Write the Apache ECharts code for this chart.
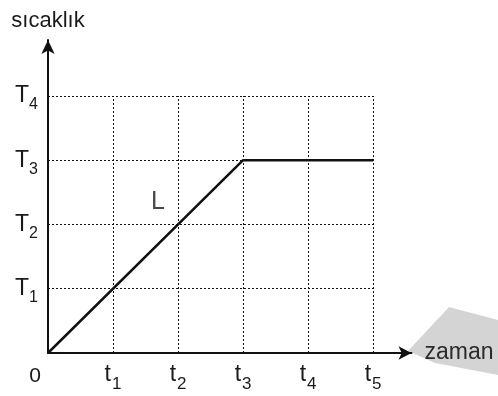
<!DOCTYPE html>
<html>
<head>
<meta charset="utf-8">
<script src="https://cdn.jsdelivr.net/npm/echarts@6/dist/echarts.min.js"></script>
<style>
html, body { margin: 0; padding: 0; background: #fff; }
#chart { width: 498px; height: 396px; }
</style>
</head>
<body>
<div id="chart"></div>
<script>
// tick marks: zaman (t) on x, sıcaklık (T) on y
var timeTicks = [1, 2, 3, 4, 5];
var timeSubs = ['1', '2', '3', '4', '5'];
var tempTicks = [1, 2, 3, 4];
var tempSubs = ['1', '2', '3', '4'];
// curve L: heats up to T3 at t3, then stays
var curveTime = [0, 3, 5];
var curveTemp = [0, 3, 3];
var curveName = 'L';
var curveLabelAt = [1.69, 2.35];

// axis ends (arrow tips) lie beyond the last grid line
var X_END = 5.59;
var Y_END = 4.87;
var GRID_X = timeTicks[timeTicks.length - 1];
var GRID_Y = tempTicks[tempTicks.length - 1];

var FONT = 'Liberation Sans, Arial, sans-serif';
var INK = '#1a1a1a';

// dotted grid, only inside 0..t5 x 0..T4
var gridSegs = [];
timeTicks.forEach(function (t) {
    gridSegs.push({ coords: [[t, 0], [t, GRID_Y]] });
});
tempTicks.forEach(function (v) {
    gridSegs.push({ coords: [[0, v], [GRID_X, v]] });
});

var curveData = curveTime.map(function (t, i) {
    return [t, curveTemp[i]];
});

var option = {
    animation: false,
    textStyle: { fontFamily: FONT, color: INK },
    grid: {
        left: 48,
        right: 86.5,
        top: 40,
        bottom: 43,
        containLabel: false,
        outerBoundsMode: 'none'
    },
    // grey smudge behind "zaman"
    graphic: [{
        type: 'polygon',
        z: -1,
        silent: true,
        shape: { points: [[408, 351], [449, 307], [498, 320], [498, 375], [435, 363]] },
        style: { fill: '#d4d4d4' }
    }],
    xAxis: {
        type: 'value',
        min: 0,
        max: X_END,
        interval: 1,
        name: 'zaman',
        nameLocation: 'end',
        nameGap: 13,
        nameTextStyle: { fontSize: 23, color: '#2b2b2b', fontFamily: FONT },
        axisLine: {
            show: true,
            symbol: ['none', 'arrow'],
            symbolSize: [10, 13],
            lineStyle: { color: '#111', width: 2 }
        },
        axisTick: { show: false },
        splitLine: { show: false },
        axisLabel: {
            margin: 3,
            showMaxLabel: false,
            formatter: function (v) {
                if (v === 0) return '{z|0}';
                var i = timeTicks.indexOf(v);
                return i < 0 ? '' : '{m|t}{s|' + timeSubs[i] + '}';
            },
            rich: {
                m: { fontSize: 23, color: INK, fontFamily: FONT },
                s: { fontSize: 17, color: INK, fontFamily: FONT, padding: [20, 0, 0, 1] },
                z: { fontSize: 21, color: INK, fontFamily: FONT, padding: [10, 26, 0, 0] }
            }
        }
    },
    yAxis: {
        type: 'value',
        min: 0,
        max: Y_END,
        interval: 1,
        name: 'sıcaklık',
        nameLocation: 'end',
        nameGap: 8,
        nameTextStyle: { fontSize: 22, color: INK, fontFamily: FONT },
        axisLine: {
            show: true,
            symbol: ['none', 'arrow'],
            symbolSize: [10, 14],
            lineStyle: { color: '#111', width: 2 }
        },
        axisTick: { show: false },
        splitLine: { show: false },
        axisLabel: {
            margin: 10,
            showMaxLabel: false,
            formatter: function (v) {
                var i = tempTicks.indexOf(v);
                return i < 0 ? '' : '{m|T}{s|' + tempSubs[i] + '}';
            },
            rich: {
                m: { fontSize: 23, color: INK, fontFamily: FONT },
                s: { fontSize: 16, color: INK, fontFamily: FONT, padding: [18, 0, 0, 0] }
            }
        }
    },
    series: [
        {
            type: 'lines',
            coordinateSystem: 'cartesian2d',
            silent: true,
            z: 1,
            lineStyle: { color: '#111', width: 1, type: [2, 2], opacity: 1 },
            data: gridSegs
        },
        {
            type: 'line',
            name: curveName,
            z: 3,
            data: curveData,
            showSymbol: false,
            symbol: 'none',
            lineStyle: { color: '#111', width: 2.5 }
        },
        {
            type: 'scatter',
            silent: true,
            symbolSize: 0,
            data: [curveLabelAt],
            label: {
                show: true,
                position: 'inside',
                formatter: curveName,
                fontSize: 25,
                color: INK,
                fontFamily: FONT
            }
        }
    ]
};

var myChart = echarts.init(document.getElementById('chart'));
myChart.setOption(option);
</script>
</body>
</html>
